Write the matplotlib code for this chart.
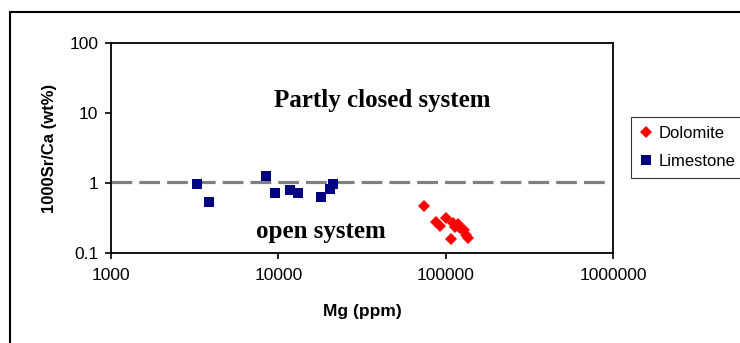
import matplotlib
matplotlib.use("Agg")
import matplotlib.pyplot as plt
from matplotlib.patches import Rectangle
from matplotlib.ticker import FixedLocator, FuncFormatter, NullLocator

# Mg (ppm) vs 1000Sr/Ca (wt%)
limestone_mg = [3250, 3850, 8450, 9500, 11700, 13100, 17900, 20200, 21100]
limestone_srca = [0.96, 0.53, 1.26, 0.73, 0.80, 0.73, 0.63, 0.81, 0.96]

dolomite_mg = [73500, 87500, 92000, 99500, 107000, 110000, 113500,
               118000, 122000, 128500, 132000, 135000]
dolomite_srca = [0.47, 0.28, 0.24, 0.32, 0.157, 0.27, 0.235,
                 0.26, 0.225, 0.21, 0.18, 0.163]

# boundary between open and partly closed system
boundary_srca = 1.03
boundary_mg = [1000, 900000]

x_ticks = [1000, 10000, 100000, 1000000]
y_ticks = [0.1, 1, 10, 100]

plt.rcParams['font.family'] = ['Liberation Sans', 'DejaVu Sans']

fig = plt.figure(figsize=(7.4, 3.43), dpi=100)
ax = fig.add_axes([0.15, 0.2624, 0.679, 0.6122])

ax.plot(boundary_mg, [boundary_srca, boundary_srca], color='#808080',
        linewidth=2.3, dashes=(6.5, 2.2), zorder=1)

ax.plot(dolomite_mg, dolomite_srca, linestyle='none', marker='D',
        markersize=6.2, color='#FF0000', markeredgewidth=0, label='Dolomite', zorder=3)
ax.plot(limestone_mg, limestone_srca, linestyle='none', marker='s',
        markersize=6.6, color='#000080', markeredgewidth=0, label='Limestone', zorder=3)

ax.set_xscale('log')
ax.set_yscale('log')
ax.set_xlim(1000, 1000000)
ax.set_ylim(0.1, 100)

ax.xaxis.set_major_locator(FixedLocator(x_ticks))
ax.yaxis.set_major_locator(FixedLocator(y_ticks))
ax.xaxis.set_minor_locator(NullLocator())
ax.yaxis.set_minor_locator(NullLocator())
ax.xaxis.set_major_formatter(FuncFormatter(lambda v, _: '%d' % v))
ax.yaxis.set_major_formatter(FuncFormatter(lambda v, _: '%g' % v))

ax.tick_params(axis='both', direction='out', length=4, width=1.2,
               labelsize=12.5, color='black')
ax.tick_params(axis='x', pad=7)
ax.tick_params(axis='y', pad=5)
for s in ax.spines.values():
    s.set_linewidth(1.3)
    s.set_color('black')

ax.set_xlabel('Mg (ppm)', fontsize=12.5, fontweight='bold', labelpad=15)
ax.set_ylabel('1000Sr/Ca (wt%)', fontsize=12, fontweight='bold', labelpad=9)

ax.text(0.539, 0.724, 'Partly closed system', transform=ax.transAxes,
        ha='center', va='center', fontsize=18, fontweight='bold',
        family='Liberation Serif')
ax.text(0.418, 0.10, 'open system', transform=ax.transAxes,
        ha='center', va='center', fontsize=18, fontweight='bold',
        family='Liberation Serif')

leg = fig.legend(loc='upper left', bbox_to_anchor=(0.853, 0.659),
                 frameon=True, fancybox=False, fontsize=12,
                 handlelength=0.7, handletextpad=0.4, borderpad=0.55,
                 labelspacing=0.75, borderaxespad=0)
leg.get_frame().set_edgecolor('black')
leg.get_frame().set_linewidth(0.8)

# outer chart border
fig.patches.append(Rectangle((10 / 740, -0.1), 1.1, 1.1 - 12.5 / 343,
                             transform=fig.transFigure, fill=False,
                             edgecolor='black', linewidth=1.5))

fig.savefig('out.png', dpi=100)
